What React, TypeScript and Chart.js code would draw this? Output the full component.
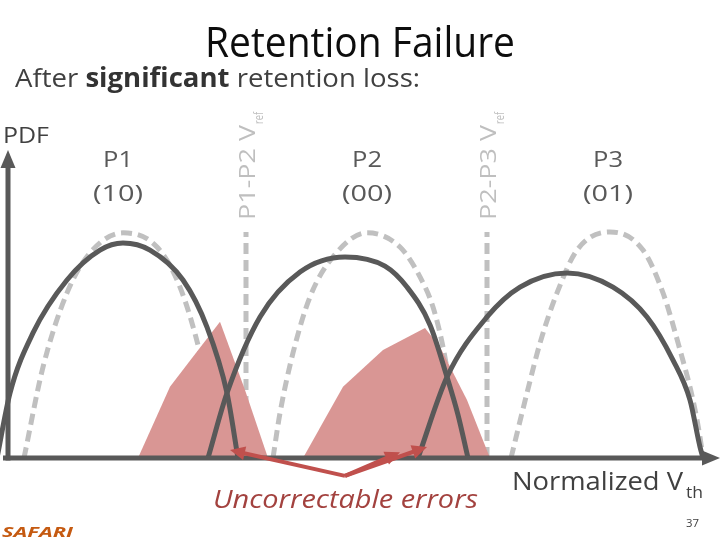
import React, { useEffect, useRef } from "react";
import { Chart, registerables } from "chart.js";

Chart.register(...registerables);

const FONT = '"Open Sans", "Noto Sans", sans-serif';

// Normalized Vth (x) and PDF (y) readings for each distribution
const solid1X = [-0.03, 0.1, 0.33, 0.67, 1.0, 1.23, 1.5, 1.83, 2.07, 2.27, 2.38];
const solid1Y = [0, 0.211, 0.406, 0.578, 0.675, 0.698, 0.675, 0.578, 0.425, 0.211, 0];
const solid2X = [2.08, 2.27, 2.6, 3.0, 3.45, 3.85, 4.07, 4.3, 4.47, 4.58, 4.68];
const solid2Y = [0, 0.211, 0.458, 0.604, 0.653, 0.623, 0.555, 0.432, 0.263, 0.14, 0];
const solid3X = [4.18, 4.47, 4.87, 5.2, 5.67, 6.13, 6.47, 6.73, 6.9, 7.0, 7.03];
const solid3Y = [0, 0.263, 0.458, 0.555, 0.601, 0.555, 0.458, 0.318, 0.188, 0.036, 0];

const dash1X = [0.24, 0.43, 0.67, 0.9, 1.23, 1.57, 1.8, 2.0, 2.12, 2.2];
const dash1Y = [0, 0.295, 0.536, 0.666, 0.731, 0.685, 0.555, 0.341, 0.156, 0];
const dash2X = [2.73, 2.8, 2.93, 3.1, 3.33, 3.67, 4.0, 4.2, 4.33, 4.43, 4.52, 4.6];
const dash2Y = [0, 0.146, 0.341, 0.523, 0.653, 0.731, 0.685, 0.588, 0.49, 0.36, 0.188, 0];
const dash3X = [5.11, 5.27, 5.4, 5.57, 5.77, 6.1, 6.43, 6.63, 6.8, 6.93, 7.0, 7.03];
const dash3Y = [0, 0.211, 0.373, 0.536, 0.675, 0.734, 0.675, 0.536, 0.351, 0.188, 0.068, 0];

const err1X = [1.38, 1.7, 1.88, 2.2, 2.45, 2.68];
const err1Y = [0, 0.231, 0.308, 0.442, 0.221, 0];
const err2X = [3.03, 3.43, 3.83, 4.25, 4.4, 4.67, 4.9];
const err2Y = [0, 0.231, 0.351, 0.422, 0.36, 0.188, 0];

const vrefX = [2.46, 4.87];
const vrefTop = 0.734;

const stateNames = ["P1", "P2", "P3"];
const stateCodes = ["(10)", "(00)", "(01)"];
const vrefLabels = ["P1-P2 V", "P2-P3 V"];

// arrow vertex and ends (data units)
const arrowFrom = { x: 3.45, y: -0.058 };
const arrowTo = [
  { x: 2.3, y: 0.026 },
  { x: 4.0, y: 0.019 },
  { x: 4.27, y: 0.036 },
];

const pts = (xs: number[], ys: number[]) => xs.map((x, i) => ({ x, y: ys[i] }));

type Seg = { t: string; f: string; c: string; dy?: number };

function drawRun(ctx: CanvasRenderingContext2D, segs: Seg[], left: number, width: number, baseline: number) {
  let total = 0;
  for (const s of segs) {
    ctx.font = s.f;
    total += ctx.measureText(s.t).width;
  }
  const sx = width / total;
  ctx.save();
  ctx.translate(left, baseline);
  ctx.scale(sx, 1);
  ctx.textBaseline = "alphabetic";
  ctx.textAlign = "left";
  let x = 0;
  for (const s of segs) {
    ctx.font = s.f;
    ctx.fillStyle = s.c;
    ctx.fillText(s.t, x, s.dy || 0);
    x += ctx.measureText(s.t).width;
  }
  ctx.restore();
}

function arrowHead(ctx: CanvasRenderingContext2D, x0: number, y0: number, x1: number, y1: number, len: number, hw: number) {
  const a = Math.atan2(y1 - y0, x1 - x0);
  const bx = x1 - len * Math.cos(a);
  const by = y1 - len * Math.sin(a);
  ctx.beginPath();
  ctx.moveTo(x1, y1);
  ctx.lineTo(bx + hw * Math.sin(a), by - hw * Math.cos(a));
  ctx.lineTo(bx - hw * Math.sin(a), by + hw * Math.cos(a));
  ctx.closePath();
  ctx.fill();
}

const overlay = {
  id: "overlay",
  afterDatasetsDraw(chart: any) {
    const ctx: CanvasRenderingContext2D = chart.ctx;
    const xs = chart.scales.x;
    const ys = chart.scales.y;
    const px = (v: number) => xs.getPixelForValue(v);
    const py = (v: number) => ys.getPixelForValue(v);
    ctx.save();
    // axes
    const axisColor = "#595959";
    ctx.strokeStyle = axisColor;
    ctx.fillStyle = axisColor;
    ctx.lineWidth = 5;
    ctx.lineCap = "butt";
    const ox = px(0.08);
    const oy = py(0);
    ctx.beginPath();
    ctx.moveTo(ox, oy + 2.5);
    ctx.lineTo(ox, py(1) + 14);
    ctx.stroke();
    arrowHead(ctx, ox, oy, ox, py(1), 18, 7.5);
    ctx.beginPath();
    ctx.moveTo(px(0.03), oy);
    ctx.lineTo(px(7.2) - 14, oy);
    ctx.stroke();
    arrowHead(ctx, px(0), oy, px(7.2), oy, 18, 7.5);

    // red arrows
    ctx.strokeStyle = "#c0504d";
    ctx.fillStyle = "#c0504d";
    ctx.lineWidth = 4;
    ctx.lineJoin = "round";
    const fx = px(arrowFrom.x);
    const fy = py(arrowFrom.y);
    for (const t of arrowTo) {
      const tx = px(t.x);
      const ty = py(t.y);
      const a = Math.atan2(ty - fy, tx - fx);
      ctx.beginPath();
      ctx.moveTo(fx, fy);
      ctx.lineTo(tx - 10 * Math.cos(a), ty - 10 * Math.sin(a));
      ctx.stroke();
      arrowHead(ctx, fx, fy, tx, ty, 15, 7);
    }
    ctx.restore();
  },
  afterDraw(chart: any) {
    const ctx: CanvasRenderingContext2D = chart.ctx;
    const xs = chart.scales.x;
    const px = (v: number) => xs.getPixelForValue(v);
    // title
    drawRun(ctx, [{ t: "Retention Failure", f: `42px ${FONT}`, c: "#0d0d0d" }], 205, 310, 57);
    // subtitle
    drawRun(
      ctx,
      [
        { t: "After ", f: `26px ${FONT}`, c: "#404040" },
        { t: "significant", f: `bold 26px ${FONT}`, c: "#333333" },
        { t: " retention loss:", f: `26px ${FONT}`, c: "#404040" },
      ],
      15,
      405,
      87
    );
    // PDF
    drawRun(ctx, [{ t: "PDF", f: `22px ${FONT}`, c: "#404040" }], 3, 46, 143);
    // state labels
    const centers = [118, 367, 608];
    centers.forEach((cx, i) => {
      drawRun(ctx, [{ t: stateNames[i], f: `22px ${FONT}`, c: "#595959" }], cx - 15, 30, 167);
      drawRun(ctx, [{ t: stateCodes[i], f: `22px ${FONT}`, c: "#595959" }], cx - 25, 50, 201);
    });
    // Vref labels (rotated)
    vrefX.forEach((vx, i) => {
      const bx = px(vx) + 9;
      ctx.save();
      ctx.translate(bx, 220);
      ctx.rotate(-Math.PI / 2);
      drawRun(ctx, [{ t: vrefLabels[i], f: `22px ${FONT}`, c: "#bfbfbf" }], 0, 95, 0);
      drawRun(ctx, [{ t: "ref", f: `13px ${FONT}`, c: "#bfbfbf" }], 96, 12, 8);
      ctx.restore();
    });
    // x axis label
    drawRun(ctx, [{ t: "Normalized V", f: `25px ${FONT}`, c: "#404040" }], 512, 171, 490);
    drawRun(ctx, [{ t: "th", f: `16px ${FONT}`, c: "#404040" }], 686, 17, 498);
    // errors label
    drawRun(ctx, [{ t: "Uncorrectable errors", f: `italic 25px ${FONT}`, c: "#a3423f" }], 213, 265, 508);
    // page number
    drawRun(ctx, [{ t: "37", f: `10px ${FONT}`, c: "#404040" }], 686, 13, 527);
    // logo
    drawRun(ctx, [{ t: "SAFARI", f: `italic bold 15px ${FONT}`, c: "#c55a11" }], 2, 71, 537);
  },
};

export default function App() {
  const ref = useRef<HTMLCanvasElement | null>(null);
  useEffect(() => {
    document.body.style.margin = "0";
    const canvas = ref.current!;
    const solid = (xs: number[], ys: number[]) => ({
      data: pts(xs, ys),
      borderColor: "#595959",
      borderWidth: 5,
      pointRadius: 0,
      fill: false,
      cubicInterpolationMode: "monotone" as const,
      clip: false as any,
      order: 0,
    });
    const dashed = (xs: number[], ys: number[]) => ({
      data: pts(xs, ys),
      borderColor: "#c0c0c0",
      borderWidth: 5,
      borderDash: [11, 6],
      pointRadius: 0,
      fill: false,
      cubicInterpolationMode: "monotone" as const,
      clip: false as any,
      order: 3,
    });
    const err = (xs: number[], ys: number[]) => ({
      data: pts(xs, ys),
      borderWidth: 0,
      borderColor: "rgba(0,0,0,0)",
      backgroundColor: "#d99694",
      pointRadius: 0,
      fill: "origin",
      tension: 0,
      clip: false as any,
      order: 1,
    });
    const vref = (x: number) => ({
      data: [
        { x, y: 0 },
        { x, y: vrefTop },
      ],
      borderColor: "#c0c0c0",
      borderWidth: 5,
      borderDash: [11, 6],
      pointRadius: 0,
      fill: false,
      clip: false as any,
      order: 4,
    });
    const chart = new Chart(canvas, {
      type: "line",
      data: {
        datasets: [
          solid(solid1X, solid1Y),
          solid(solid2X, solid2Y),
          solid(solid3X, solid3Y),
          err(err1X, err1Y),
          err(err2X, err2Y),
          dashed(dash1X, dash1Y),
          dashed(dash2X, dash2Y),
          dashed(dash3X, dash3Y),
          vref(vrefX[0]),
          vref(vrefX[1]),
        ] as any,
      },
      options: {
        animation: false,
        responsive: false,
        maintainAspectRatio: false,
        layout: { padding: { left: 0, right: 0, top: 150, bottom: 82 } },
        plugins: { legend: { display: false }, tooltip: { enabled: false } },
        scales: {
          x: { type: "linear", min: 0, max: 7.2, display: false },
          y: { type: "linear", min: 0, max: 1, display: false },
        },
      },
      plugins: [overlay],
    });
    return () => chart.destroy();
  }, []);
  return (
    <div style={{ position: "fixed", left: 0, top: 0, width: 720, height: 540, background: "#fff" }}>
      <canvas ref={ref} width={720} height={540} style={{ display: "block" }} />
    </div>
  );
}
